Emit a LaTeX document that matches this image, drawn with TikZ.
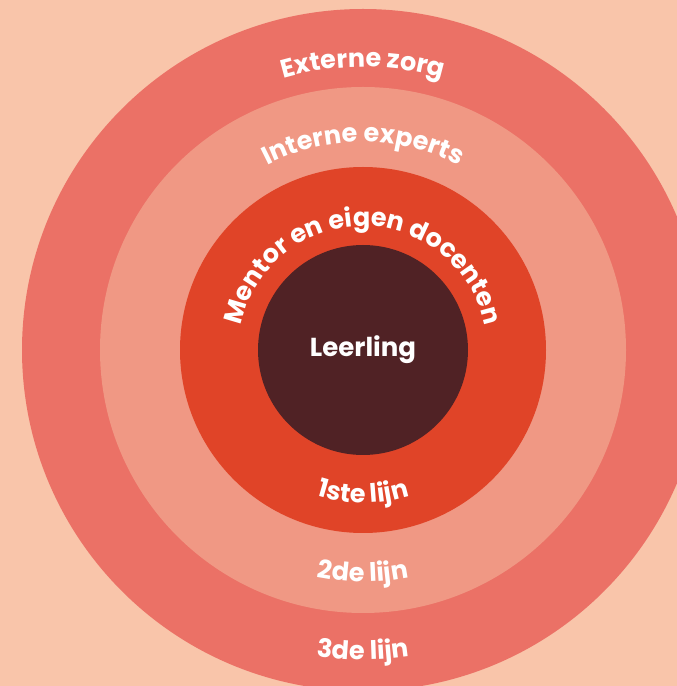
\documentclass[tikz,border=0pt]{standalone}
\usepackage{fontspec}
\setmainfont{Poppins}
\usetikzlibrary{decorations.text}

\definecolor{bgpeach}{HTML}{F9C5AA}
\definecolor{zorgred}{HTML}{EB7166}
\definecolor{expertsred}{HTML}{F09884}
\definecolor{mentorred}{HTML}{E04428}
\definecolor{leerlingbrown}{HTML}{502225}

\begin{document}
\begin{tikzpicture}[x=1pt, y=1pt,
    disc/.style={circle, inner sep=0pt, minimum size=#1},
    ringlabel/.style={decorate, decoration={text along path, text align=center,
        text color=white, text={|\bfseries\fontsize{25.5}{30}\selectfont|#1}}}]

  \useasboundingbox (0,0) rectangle (677,686);
  \clip (0,0) rectangle (677,686);
  \fill[bgpeach] (0,0) rectangle (677,686);

  \coordinate (c) at (363,336);

  % the four lines of care
  \node[disc=682pt, fill=zorgred] (zorg) at (c) {};
  \node[disc=526pt, fill=expertsred] (experts) at (c) {};
  \node[disc=366pt, fill=mentorred] (mentor) at (c) {};
  \node[disc=210pt, fill=leerlingbrown, text=white,
        font=\bfseries\fontsize{26}{30}\selectfont] (leerling) at (c) {Leerling};

  % labels on top
  \path[ringlabel={Externe zorg}] ([shift={(150:283)}]c) arc[start angle=150, end angle=30, radius=283];
  \path[ringlabel={Interne experts}] ([shift={(160:208)}]c) arc[start angle=160, end angle=20, radius=208];
  \path[ringlabel={Mentor en eigen docenten}] ([shift={(200:124)}]c) arc[start angle=200, end angle=-20, radius=124];

  % labels below
  \path[ringlabel={1ste lijn}] ([shift={(220:153)}]c) arc[start angle=220, end angle=320, radius=153];
  \path[ringlabel={2de lijn}] ([shift={(230:232)}]c) arc[start angle=230, end angle=310, radius=232];
  \path[ringlabel={3de lijn}] ([shift={(240:310)}]c) arc[start angle=240, end angle=300, radius=310];
\end{tikzpicture}
\end{document}
